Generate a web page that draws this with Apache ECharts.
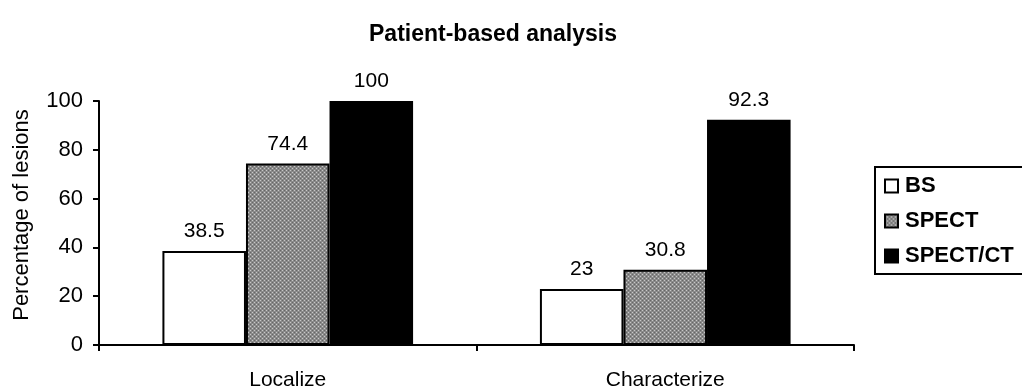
<!DOCTYPE html>
<html>
<head>
<meta charset="utf-8">
<script src="https://cdn.jsdelivr.net/npm/echarts@6/dist/echarts.min.js"></script>
<style>html,body{margin:0;padding:0;background:#fff;}#c{width:1022px;height:391px;}</style>
</head>
<body>
<div id="c"></div>
<script>
const categories = ['Localize', 'Characterize'];
const seriesNames = ['BS', 'SPECT', 'SPECT/CT'];
const bsValues = [38.5, 23];
const spectValues = [74.4, 30.8];
const spectCtValues = [100, 92.3];
const yTicks = [0, 20, 40, 60, 80, 100];

function makePattern() {
  const c = document.createElement('canvas');
  c.width = 4; c.height = 4;
  const ctx = c.getContext('2d');
  ctx.fillStyle = '#8a8a8a';
  ctx.fillRect(0, 0, 4, 4);
  ctx.fillStyle = '#c8c8c8';
  ctx.fillRect(0, 0, 1, 1);
  ctx.fillRect(2, 2, 1, 1);
  ctx.fillStyle = '#666';
  ctx.fillRect(2, 0, 1, 1);
  ctx.fillRect(0, 2, 1, 1);
  return c;
}
const pattern = { image: makePattern(), repeat: 'repeat' };

const chart = echarts.init(document.getElementById('c'), null, { renderer: 'canvas' });
const font = 'Liberation Sans, Arial, sans-serif';
const labelCfg = { show: true, position: 'top', distance: 9, color: '#000', fontSize: 21, fontFamily: font };
const itemBorder = { borderColor: '#000', borderWidth: 2 };

chart.setOption({
  animation: false,
  backgroundColor: '#fff',
  title: {
    text: 'Patient-based analysis',
    left: 488, top: 18, textAlign: 'center',
    textStyle: { fontSize: 23, fontWeight: 'bold', color: '#000', fontFamily: font }
  },
  legend: {
    orient: 'vertical',
    left: 875, top: 167,
    data: seriesNames,
    icon: 'rect',
    itemWidth: 13, itemHeight: 13,
    itemGap: 13,
    borderColor: '#000', borderWidth: 2,
    padding: [8, 40, 7, 9],
    textStyle: { fontSize: 22, fontWeight: 'bold', color: '#000', fontFamily: font, padding: [0, 0, 0, 2] }
  },
  grid: { left: 99, right: 168, top: 101, bottom: 46, containLabel: false },
  xAxis: {
    type: 'category',
    data: categories,
    axisLine: { lineStyle: { color: '#000', width: 2 } },
    axisTick: { show: true, length: 6, inside: false, lineStyle: { color: '#000', width: 2 } },
    axisLabel: { color: '#000', fontSize: 21, fontFamily: font, margin: 25 }
  },
  yAxis: {
    type: 'value',
    min: yTicks[0], max: yTicks[yTicks.length - 1], interval: 20,
    name: 'Percentage of lesions',
    nameLocation: 'middle', nameGap: 66, nameRotate: 90,
    nameTextStyle: { fontSize: 22, color: '#000', fontFamily: font, padding: [0, 0, 0, 16] },
    axisLine: { show: true, lineStyle: { color: '#000', width: 2 } },
    axisTick: { show: true, length: 6, lineStyle: { color: '#000', width: 2 } },
    axisLabel: { color: '#000', fontSize: 22, fontFamily: font, margin: 16 },
    splitLine: { show: false }
  },
  series: [
    { name: seriesNames[0], type: 'bar', data: bsValues, barGap: '0%', barCategoryGap: '33.6%',
      itemStyle: Object.assign({ color: '#fff' }, itemBorder), label: labelCfg },
    { name: seriesNames[1], type: 'bar', data: spectValues, barGap: '0%', barCategoryGap: '33.6%',
      itemStyle: Object.assign({ color: pattern }, itemBorder), label: labelCfg },
    { name: seriesNames[2], type: 'bar', data: spectCtValues, barGap: '0%', barCategoryGap: '33.6%',
      itemStyle: Object.assign({ color: '#000' }, itemBorder), label: labelCfg }
  ]
});
</script>
</body>
</html>
